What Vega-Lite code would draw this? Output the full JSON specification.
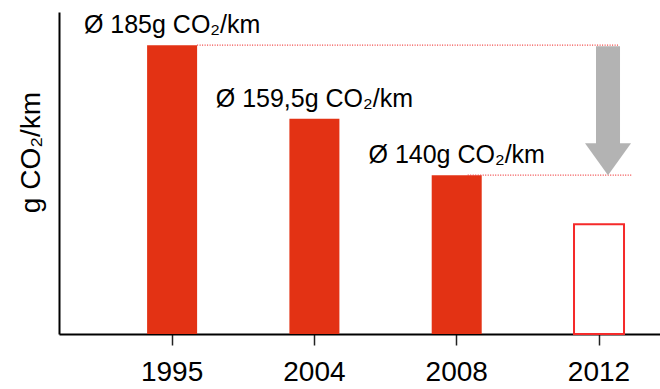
{
  "$schema": "https://vega.github.io/schema/vega-lite/v6.json",
  "width": 601,
  "height": 322,
  "autosize": {"type": "none"},
  "padding": {"left": 59, "top": 12, "right": 0, "bottom": 55},
  "background": "#ffffff",
  "data": {
    "values": [
      {"year": "1995", "value": 185, "kind": "Ist", "label": "Ø 185g CO₂/km"},
      {"year": "2004", "value": 159.5, "kind": "Ist", "label": "Ø 159,5g CO₂/km"},
      {"year": "2008", "value": 140, "kind": "Ist", "label": "Ø 140g CO₂/km"},
      {"year": "2012", "value": 123, "kind": "Ziel", "label": ""}
    ]
  },
  "layer": [
    {
      "transform": [{"filter": "datum.kind === 'Ist'"}],
      "mark": {"type": "bar", "color": "#e33214"},
      "encoding": {
        "x": {
          "field": "year", "type": "nominal", "title": null,
          "scale": {"type": "band", "domain": ["1995", "2004", "2008", "2012"], "paddingInner": 0.6486, "paddingOuter": 0.436, "align": 0.71}
        },
        "y": {
          "field": "value", "type": "quantitative", "title": "g CO₂/km",
          "scale": {"domain": [85, 196.5], "zero": false, "nice": false}
        },
        "y2": {"datum": 85}
      }
    },
    {
      "transform": [{"filter": "datum.kind === 'Ziel'"}],
      "mark": {"type": "bar", "fill": "#ffffff", "stroke": "#f52a2a", "strokeWidth": 2},
      "encoding": {
        "x": {"field": "year", "type": "nominal", "title": null},
        "y": {"field": "value", "type": "quantitative", "title": "g CO₂/km"},
        "y2": {"datum": 85}
      }
    },
    {
      "transform": [{"filter": "datum.kind === 'Ist'"}],
      "mark": {"type": "text", "fontSize": 25, "color": "#000000", "align": "center", "baseline": "alphabetic", "dy": -12},
      "encoding": {
        "x": {"field": "year", "type": "nominal", "title": null},
        "y": {"field": "value", "type": "quantitative", "title": "g CO₂/km"},
        "text": {"field": "label"}
      }
    },
    {
      "data": {"values": [{"from": "1995", "to": "2012", "level": 185}]},
      "mark": {"type": "rule", "color": "#f03c3c", "strokeWidth": 1.2, "strokeDash": [1, 1.5]},
      "encoding": {
        "x": {"field": "from", "type": "nominal", "bandPosition": 1, "title": null},
        "x2": {"field": "to", "bandPosition": 0.88},
        "y": {"field": "level", "type": "quantitative", "title": "g CO₂/km"}
      }
    },
    {
      "data": {"values": [{"from": "2008", "to": "2012", "level": 140}]},
      "mark": {"type": "rule", "color": "#f03c3c", "strokeWidth": 1.2, "strokeDash": [1, 1.5]},
      "encoding": {
        "x": {"field": "from", "type": "nominal", "bandPosition": 0.72, "title": null},
        "x2": {"field": "to", "bandPosition": 1.16},
        "y": {"field": "level", "type": "quantitative", "title": "g CO₂/km"}
      }
    },
    {
      "data": {"values": [{"year": "2012", "start": 185, "end": 140}]},
      "mark": {"type": "rule", "color": "#b3b3b3", "strokeWidth": 24, "strokeCap": "butt", "y2Offset": -31, "yOffset": 1},
      "encoding": {
        "x": {"field": "year", "type": "nominal", "bandPosition": 0.68, "title": null},
        "y": {"field": "start", "type": "quantitative", "title": "g CO₂/km"},
        "y2": {"field": "end"}
      }
    },
    {
      "data": {"values": [{"year": "2012", "start": 185, "end": 140}]},
      "mark": {"type": "point", "shape": "M-1,-1.39L1,-1.39L0,0Z", "size": 2116, "filled": true, "color": "#b3b3b3", "opacity": 1, "strokeWidth": 0},
      "encoding": {
        "x": {"field": "year", "type": "nominal", "bandPosition": 0.68, "title": null},
        "y": {"field": "end", "type": "quantitative", "title": "g CO₂/km"}
      }
    }
  ],
  "config": {
    "view": {"stroke": null},
    "font": "Liberation Sans",
    "axis": {"grid": false, "domainColor": "#000000", "domainWidth": 2},
    "axisX": {"labelAngle": 0, "labelFontSize": 28, "labelColor": "#000000", "tickSize": 11, "tickWidth": 1.5, "tickColor": "#222222", "labelPadding": 13},
    "axisY": {"ticks": false, "labels": false, "titleFontSize": 28, "titleFontWeight": "normal", "titleColor": "#000000", "titlePadding": 14, "titleY": 140}
  }
}
